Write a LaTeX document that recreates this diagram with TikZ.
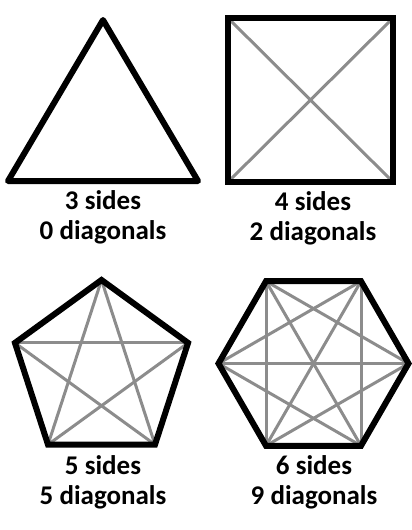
\documentclass[tikz,border=0pt]{standalone}
\usepackage{fontspec}
\setmainfont{Carlito}
\usetikzlibrary{calc}
\definecolor{diaggray}{RGB}{140,140,140}
\tikzset{
  side/.style={line width=6pt, draw=black},
  diag/.style={line width=3pt, draw=diaggray},
  caption/.style={font=\fontsize{27}{30}\selectfont\bfseries, align=center, inner sep=0pt}
}

\begin{document}
\begin{tikzpicture}[x=1pt,y=-1pt]
    \useasboundingbox (0,0) rectangle (412,530);

    % triangle
    \coordinate (T1) at (103,20);
    \coordinate (T2) at (8,181);
    \coordinate (T3) at (198,181);
    \draw [side, line join=round] (T1) -- (T2) -- (T3) -- cycle;
    \node [caption] (tri) at (103,217) {3 sides\\0 diagonals};

    % square
    \coordinate (S1) at (228,18);
    \coordinate (S2) at (393,18);
    \coordinate (S3) at (393,182);
    \coordinate (S4) at (228,182);
    \draw [diag] (S1) -- (S3) (S2) -- (S4);
    \draw [side] (S1) -- (S2) -- (S3) -- (S4) -- cycle;
    \node [caption] (sq) at (313,218) {4 sides\\2 diagonals};

    % pentagon
    \coordinate (P) at (101.5,371);
    \foreach \k in {1,...,5}
      \coordinate (P\k) at ($(P)+({-90+72*\k}:91)$);
    \foreach \k/\j in {1/3,2/4,3/5,4/1,5/2}
      \draw [diag] (P\k) -- (P\j);
    \draw [side] (P1) -- (P2) -- (P3) -- (P4) -- (P5) -- cycle;
    \node [caption] (pen) at (103,482) {5 sides\\5 diagonals};

    % hexagon
    \coordinate (H) at (313.5,363.5);
    \foreach \k in {1,...,6}
      \coordinate (H\k) at ($(H)+({60*\k}:95)$);
    \foreach \k/\j in {1/3,2/4,3/5,4/6,5/1,6/2,1/4,2/5,3/6}
      \draw [diag] (H\k) -- (H\j);
    \draw [side] (H1) -- (H2) -- (H3) -- (H4) -- (H5) -- (H6) -- cycle;
    \node [caption] (hex) at (314,482) {6 sides\\9 diagonals};

\end{tikzpicture}
\end{document}
